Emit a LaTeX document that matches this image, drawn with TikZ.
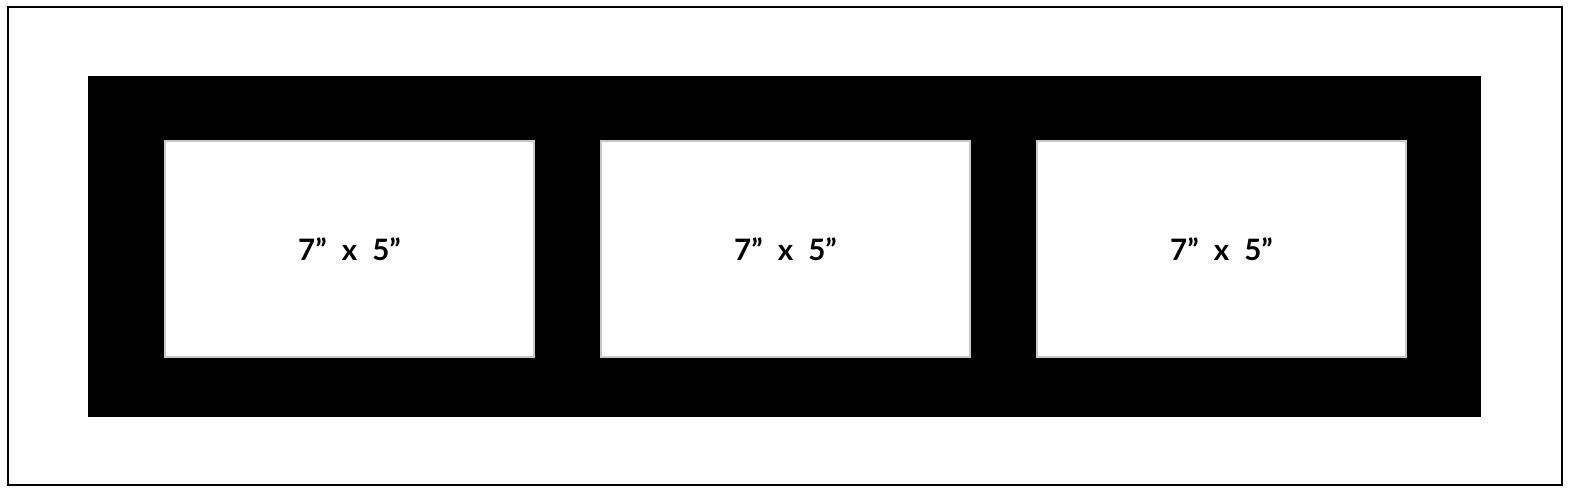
\documentclass[tikz,border=0pt]{standalone}
\usepackage{fontspec}
\setmainfont{Lato}[WordSpace=2.1]
\tikzset{every picture/.style={line width=0.75pt}}
\tikzset{window/.style={draw={rgb, 255:red, 200; green, 200; blue, 200 }, fill=white, line width=2pt, minimum width=369, minimum height=216, inner sep=0pt, font=\fontsize{29.5}{29.5}\selectfont\bfseries}}
\begin{document}
\begin{tikzpicture}[x=1pt,y=1pt,yscale=-1,xscale=1]
\useasboundingbox (0,0) rectangle (1569,490);

%Shape: Rectangle [id:frame] 
\draw [line width=2pt] (8,7) rectangle (1562,485) ;
%Shape: Rectangle [id:mount] 
\fill [black] (88,76) rectangle (1481,417) ;

% Windows
\foreach \i/\cx in {1/349.5, 2/785.5, 3/1221.5}{
  \node [window] (win\i) at (\cx,249) {7” x 5”};
}

\end{tikzpicture}
\end{document}
